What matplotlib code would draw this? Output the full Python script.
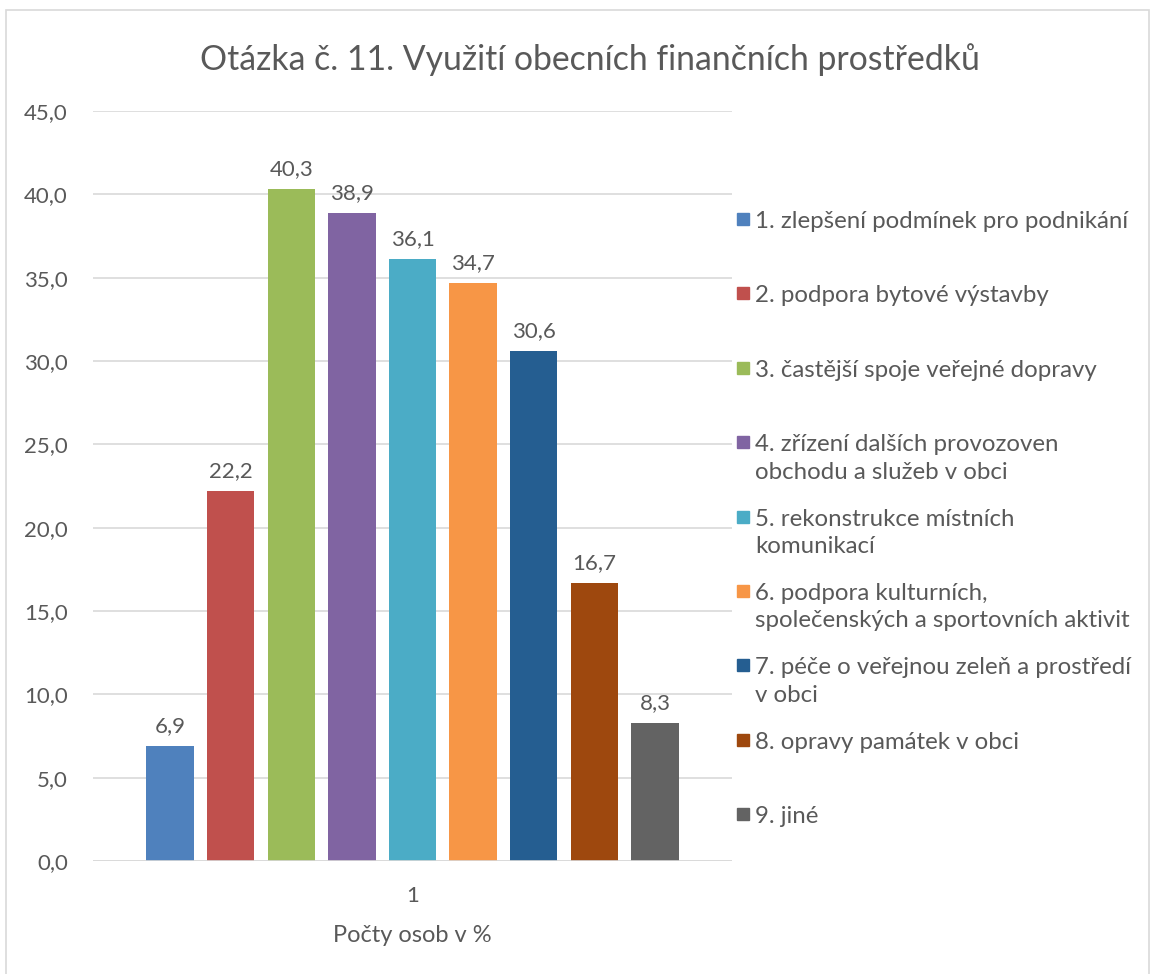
import matplotlib
matplotlib.use("Agg")
import matplotlib.pyplot as plt
from matplotlib.patches import Rectangle

categories = [
    "1. zlepšení podmínek pro podnikání",
    "2. podpora bytové výstavby",
    "3. častější spoje veřejné dopravy",
    "4. zřízení dalších provozoven\nobchodu a služeb v obci",
    "5. rekonstrukce místních\nkomunikací",
    "6. podpora kulturních,\nspolečenských a sportovních aktivit",
    "7. péče o veřejnou zeleň a prostředí\nv obci",
    "8. opravy památek v obci",
    "9. jiné",
]
values = [6.9, 22.2, 40.3, 38.9, 36.1, 34.7, 30.6, 16.7, 8.3]
colors = ["#4F81BD", "#C0504D", "#9BBB59", "#8064A2", "#4BACC6",
          "#F79646", "#255E91", "#9E480E", "#636363"]
yticks = [0, 5, 10, 15, 20, 25, 30, 35, 40, 45]
title = "Otázka č. 11. Využití obecních finančních prostředků"
xcat = "1"
xlabel = "Počty osob v %"

plt.rcParams['font.family'] = ['Lato', 'DejaVu Sans']
txt = "#595959"

fig = plt.figure(figsize=(11.55, 9.74), dpi=100)
fig.patches.append(Rectangle((0.005, -0.01), 0.99, 1.0, transform=fig.transFigure,
                             fill=False, edgecolor="#D9D9D9", linewidth=1.2))
ax = fig.add_axes([93/1155, 1-861/974, (732-93)/1155, (861-111)/974])

n = len(values)
w = 0.78
for i, (v, c) in enumerate(zip(values, colors)):
    x = i - (n-1)/2
    ax.bar(x, v, width=w, color=c, zorder=3)
    ax.text(x, v + 0.6, f"{v:.1f}".replace(".", ","), ha="center", va="bottom",
            fontsize=16, color=txt)

ax.set_xlim(-5.27, 5.27)
ax.set_ylim(0, 45)
ax.set_yticks(yticks)
ax.set_yticklabels([f"{t:.1f}".replace(".", ",") for t in yticks], fontsize=16, color=txt)
ax.set_xticks([0])
ax.set_xticklabels([xcat], fontsize=16, color=txt)
ax.tick_params(axis="y", length=0, pad=18)
ax.tick_params(axis="x", length=0, pad=18)
ax.grid(axis="y", color="#D9D9D9", linewidth=1.2, zorder=0)
for s in ["top", "right", "left", "bottom"]:
    ax.spines[s].set_visible(False)
ax.axhline(0, color="#D9D9D9", linewidth=1.2, zorder=4)
ax.set_xlabel(xlabel, fontsize=17, color=txt, labelpad=14)

fig.text(590/1155, 1-60/974, title, ha="center", va="center", fontsize=24.3, color=txt)

# legend
for i, (lab, c) in enumerate(zip(categories, colors)):
    yc = 220 + 74.4*i
    fig.patches.append(Rectangle((737/1155, 1-(yc+5)/974), 12/1155, 12/974,
                                 transform=fig.transFigure, color=c))
    fig.text(755/1155, 1-(yc-9)/974, lab, ha="left", va="top", fontsize=17.3,
             color=txt, linespacing=1.38)

fig.savefig("out.png", dpi=100)
